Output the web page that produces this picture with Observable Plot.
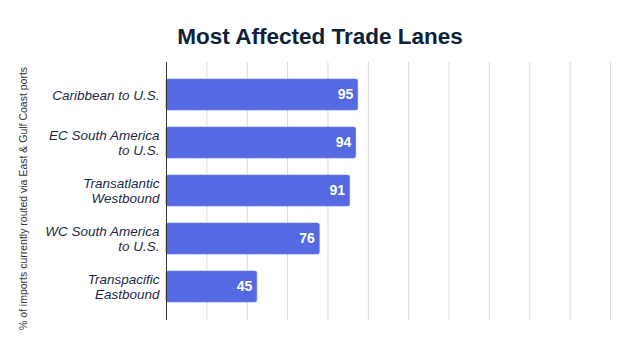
<!DOCTYPE html>
<html>
<head>
<meta charset="utf-8">
<script src="https://cdn.jsdelivr.net/npm/d3@7"></script>
<script src="https://cdn.jsdelivr.net/npm/@observablehq/plot@0.6"></script>
<style>
  html, body { margin: 0; padding: 0; background: #fff; }
  #title { position: relative; height: 55px; width: 640px; }
  #title span { position: absolute; left: 0; right: 0; top: 26px; text-align: center; font: bold 22.5px "Liberation Sans", Arial, sans-serif; color: #0b2239; line-height: 1; }
</style>
</head>
<body>
<div id="title"><span>Most Affected Trade Lanes</span></div>
<div id="chart"></div>
<script>
const lanes = ["Caribbean to U.S.", "EC South America\nto U.S.", "Transatlantic\nWestbound", "WC South America\nto U.S.", "Transpacific\nEastbound"];
const values = [95, 94, 91, 76, 45];
const xTicks = [0, 20, 40, 60, 80, 100, 120, 140, 160, 180, 200, 220];
const yTitle = "% of imports currently routed via East & Gulf Coast ports";

const data = lanes.map((lane, i) => ({lane, value: values[i]}));

const chart = Plot.plot({
  width: 640,
  height: 298,
  marginTop: 7,
  marginBottom: 33,
  marginLeft: 166,
  marginRight: 30,
  style: {fontFamily: "'Liberation Sans', Arial, sans-serif", background: "#fff"},
  x: {domain: [0, 220], axis: null},
  y: {domain: lanes, padding: 0.35, axis: null},
  marks: [
    Plot.gridX(xTicks.slice(1), {stroke: "#d9d9d9", strokeOpacity: 1, strokeWidth: 1}),
    Plot.barX(data, {x: "value", y: "lane", fill: "#5569e3", stroke: "#6b7de8", strokeWidth: 0.6, rx: 2}),
    Plot.text(data, {x: "value", y: "lane", text: d => String(d.value), textAnchor: "end", dx: -5, fill: "#ffffff", fontWeight: "bold", fontSize: 14}),
    Plot.ruleX([0], {stroke: "#333333", strokeWidth: 1}),
    Plot.axisY({tickSize: 0, tickPadding: 7, fontSize: 13.5, fontStyle: "italic", fill: "#1d2b45", lineHeight: 1.05, label: null}),
    Plot.text([yTitle], {frameAnchor: "left", rotate: -90, dx: -143, dy: 7, textAnchor: "middle", fontSize: 10.5, fill: "#333"})
  ]
});
document.getElementById("chart").appendChild(chart);
</script>
</body>
</html>
